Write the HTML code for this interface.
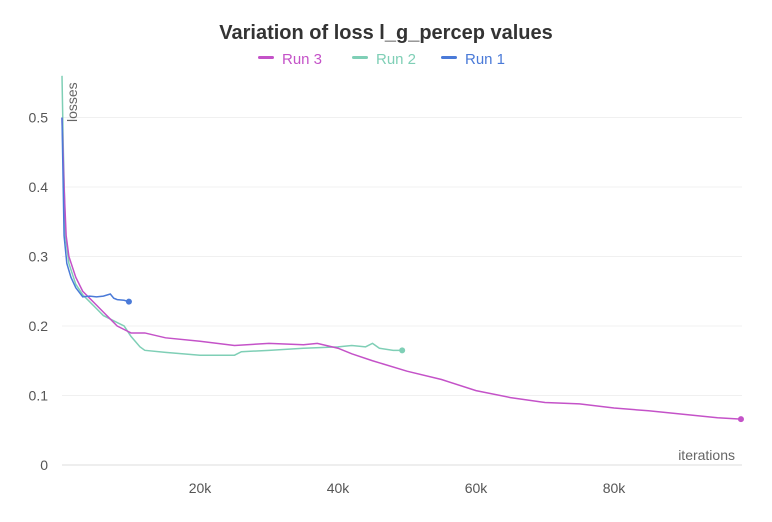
<!DOCTYPE html>
<html><head><meta charset="utf-8"><style>
body{margin:0;background:#fff;font-family:"Liberation Sans",sans-serif;}
svg text{font-family:"Liberation Sans",sans-serif;}
</style></head><body>
<svg width="772" height="517">
<text x="386" y="39" text-anchor="middle" font-size="20" font-weight="bold" fill="#333">Variation of loss l_g_percep values</text>
<g id="legend"></g>
<g id="grid"></g>
<g id="series"></g>
<text x="735" y="460" text-anchor="end" font-size="14" fill="#666">iterations</text>
<text transform="translate(77,122) rotate(-90)" font-size="14" fill="#666">losses</text>
</svg>
<script>
const xTicks=[20,40,60,80];
const xTickLabels=["20k","40k","60k","80k"];
const yTicks=[0,0.1,0.2,0.3,0.4,0.5];
const yTickLabels=["0","0.1","0.2","0.3","0.4","0.5"];
const seriesNames=["Run  3","Run  2","Run  1"];
const run1X=[0,0.3,0.7,1.3,2,3,4,5,6,7,7.5,8,9,9.7];
const run1Y=[0.5,0.33,0.29,0.27,0.255,0.242,0.243,0.242,0.243,0.246,0.24,0.238,0.237,0.235];
const run2X=[0,0.2,0.5,1,2,3,4,5,6,7,8,9,10,11.3,12,15,20,25,26,30,35,40,42,44,45,46,48,49.3];
const run2Y=[0.56,0.45,0.33,0.29,0.26,0.245,0.235,0.225,0.215,0.21,0.205,0.2,0.185,0.17,0.165,0.162,0.158,0.158,0.163,0.165,0.168,0.17,0.172,0.17,0.175,0.168,0.165,0.165];
const run3X=[0,0.3,0.6,1,2,3,4,5,6,7,8,10,12,15,20,25,30,35,37,40,42,45,50,55,60,65,70,75,80,85,90,95,98.4];
const run3Y=[0.5,0.4,0.33,0.3,0.27,0.25,0.24,0.23,0.22,0.21,0.2,0.19,0.19,0.183,0.178,0.172,0.175,0.173,0.175,0.168,0.16,0.15,0.135,0.123,0.107,0.097,0.09,0.088,0.082,0.078,0.073,0.068,0.066];
const colors=["#c452c8","#7fcfb6","#4a7ad8"];
const NS="http://www.w3.org/2000/svg";
const X0=62,X1=742,XMAX=98.55,Y0=465,YPER=695;
function sx(k){return X0+(X1-X0)*k/XMAX;}
function sy(v){return Y0-YPER*v;}
const grid=document.getElementById('grid');
yTicks.forEach((t,i)=>{
  if(t>0){const l=document.createElementNS(NS,'line');
  l.setAttribute('x1',X0);l.setAttribute('x2',X1);l.setAttribute('y1',sy(t));l.setAttribute('y2',sy(t));
  l.setAttribute('stroke','#f0f0f0');l.setAttribute('stroke-width','1');
  
  
  grid.appendChild(l);}
  const tx=document.createElementNS(NS,'text');
  tx.setAttribute('x',48);tx.setAttribute('y',sy(t)+5);tx.setAttribute('text-anchor','end');
  tx.setAttribute('font-size','14');tx.setAttribute('fill','#555');tx.textContent=yTickLabels[i];
  
  
  grid.appendChild(tx);
});
const ax=document.createElementNS(NS,'line');
ax.setAttribute('x1',X0);ax.setAttribute('x2',X1);ax.setAttribute('y1',Y0);ax.setAttribute('y2',Y0);ax.setAttribute('stroke','#ddd');


grid.appendChild(ax);
xTicks.forEach((t,i)=>{
  const tx=document.createElementNS(NS,'text');
  tx.setAttribute('x',sx(t));tx.setAttribute('y',493);tx.setAttribute('text-anchor','middle');
  tx.setAttribute('font-size','14');tx.setAttribute('fill','#555');tx.textContent=xTickLabels[i];
  
  
  grid.appendChild(tx);
});
const ser=document.getElementById('series');
function draw(xs,ys,c,name,dot){
  const p=document.createElementNS(NS,'polyline');
  p.setAttribute('points',xs.map((x,i)=>sx(x)+','+sy(ys[i])).join(' '));
  p.setAttribute('fill','none');p.setAttribute('stroke',c);p.setAttribute('stroke-width','1.5');
  
  
  ser.appendChild(p);
  if(dot){const d=document.createElementNS(NS,'circle');
  d.setAttribute('cx',sx(xs[xs.length-1]));d.setAttribute('cy',sy(ys[ys.length-1]));d.setAttribute('r','3');d.setAttribute('fill',c);
  
  
  ser.appendChild(d);}
}
draw(run2X,run2Y,colors[1],'run-2-line',true);
draw(run3X,run3Y,colors[0],'run-3-line',true);
draw(run1X,run1Y,colors[2],'run-1-line',true);
const lg=document.getElementById('legend');
const lx=[258,352,441];
seriesNames.forEach((n,i)=>{
  const g=document.createElementNS(NS,'g');
  
  
  const r=document.createElementNS(NS,'rect');
  r.setAttribute('x',lx[i]);r.setAttribute('y',56);r.setAttribute('width',16);r.setAttribute('height',3);r.setAttribute('rx',1.5);r.setAttribute('fill',colors[i]);
  g.appendChild(r);
  const t=document.createElementNS(NS,'text');
  t.setAttribute('x',lx[i]+24);t.setAttribute('y',64);t.setAttribute('font-size','15');t.setAttribute('fill',colors[i]);
  t.setAttribute('xml:space','preserve');t.textContent=n;
  g.appendChild(t);
  lg.appendChild(g);
});
</script>
</body></html>
